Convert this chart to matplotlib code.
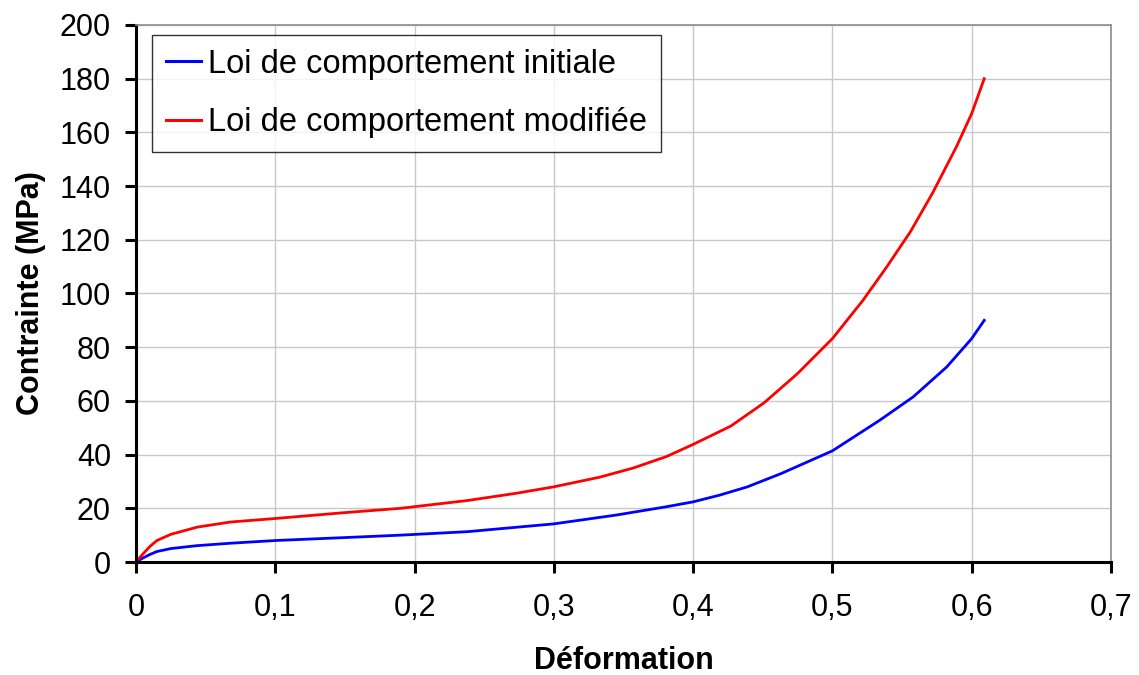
import matplotlib
matplotlib.use("Agg")
import matplotlib.pyplot as plt
from matplotlib.ticker import FuncFormatter, MultipleLocator

plt.rcParams["font.family"] = ["Liberation Sans", "DejaVu Sans"]

# Déformation / Contrainte (MPa)
strain_init = [0.0, 0.005, 0.01, 0.015, 0.025, 0.044, 0.068, 0.1, 0.15,
               0.19, 0.238, 0.3, 0.345, 0.381, 0.4, 0.419, 0.439, 0.463,
               0.5, 0.534, 0.558, 0.582, 0.6, 0.609]
stress_init = [0.0, 1.5, 2.8, 3.9, 5.0, 6.1, 7.0, 8.0, 9.1,
               10.0, 11.3, 14.2, 17.5, 20.6, 22.4, 24.9, 28.0, 32.9,
               41.4, 52.8, 61.5, 72.6, 83.2, 90.0]

strain_mod = [0.0, 0.005, 0.01, 0.015, 0.025, 0.044, 0.068, 0.1, 0.15,
              0.19, 0.238, 0.273, 0.3, 0.333, 0.357, 0.381, 0.4, 0.427,
              0.451, 0.475, 0.5, 0.522, 0.539, 0.556, 0.572, 0.589, 0.6, 0.609]
stress_mod = [0.0, 3.0, 5.8, 8.0, 10.3, 13.0, 14.9, 16.2, 18.4,
              20.0, 22.9, 25.6, 28.0, 31.6, 35.0, 39.3, 43.8, 50.6,
              59.3, 70.2, 83.2, 97.5, 109.9, 123.0, 137.5, 154.6, 167.0, 180.0]

fig = plt.figure(figsize=(11.39, 6.75), dpi=100)
ax = fig.add_axes([0.1194, 0.1674, 0.856, 0.7956])

ax.plot(strain_init, stress_init, color="#0000ff", linewidth=2.0,
        label="Loi de comportement initiale")
ax.plot(strain_mod, stress_mod, color="#ff0000", linewidth=2.0,
        label="Loi de comportement modifiée")

ax.set_xlim(0, 0.7)
ax.set_ylim(0, 200)
ax.xaxis.set_major_locator(MultipleLocator(0.1))
ax.yaxis.set_major_locator(MultipleLocator(20))
ax.xaxis.set_major_formatter(FuncFormatter(
    lambda v, _: "0" if abs(v) < 1e-9 else f"{v:.1f}".replace(".", ",")))
ax.yaxis.set_major_formatter(FuncFormatter(lambda v, _: f"{v:.0f}"))

ax.grid(True, color="#c8c8c8", linewidth=1.0)
ax.set_axisbelow(True)
for side in ("top", "right"):
    ax.spines[side].set_color("#8c8c8c")
    ax.spines[side].set_linewidth(1.2)
for side in ("left", "bottom"):
    ax.spines[side].set_color("black")
    ax.spines[side].set_linewidth(2.2)

ax.tick_params(axis="both", direction="out", length=8, width=2.2,
               labelsize=22, color="black")
ax.tick_params(axis="y", pad=10)
ax.tick_params(axis="x", pad=14)

ax.set_xlabel("Déformation", fontsize=22, fontweight="bold", labelpad=17)
ax.set_ylabel("Contrainte (MPa)", fontsize=22, fontweight="bold", labelpad=10)

leg = ax.legend(loc="upper left", bbox_to_anchor=(0.0165, 0.981), fontsize=23.5,
                frameon=True, fancybox=False, handlelength=1.08,
                handletextpad=0.22, borderpad=0.42, labelspacing=0.84,
                borderaxespad=0)
leg.get_frame().set_edgecolor("black")
leg.get_frame().set_linewidth(1.0)
for line in leg.get_lines():
    line.set_linewidth(2.2)

fig.savefig("out.png", dpi=100)
